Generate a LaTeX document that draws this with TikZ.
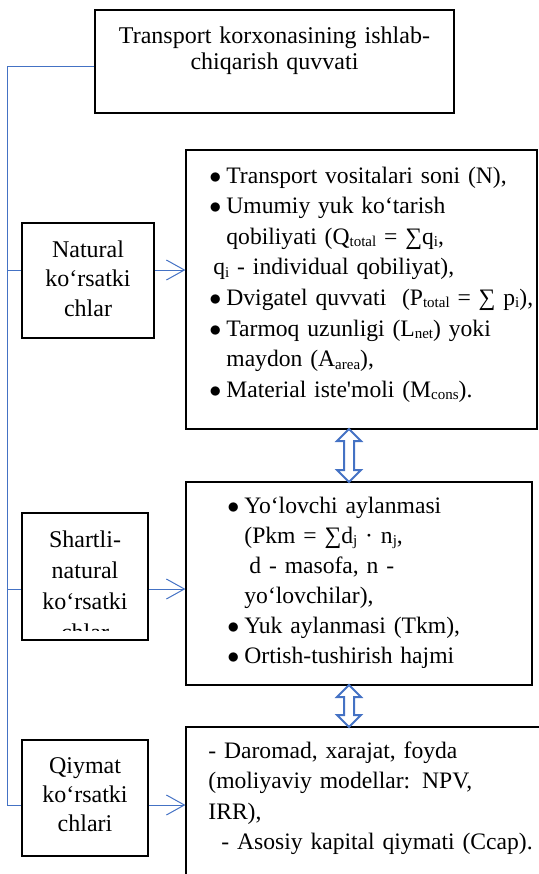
\documentclass[tikz,border=0pt]{standalone}
\usepackage{fontspec}
\setmainfont{Liberation Serif}[Ligatures=TeXOff]
\definecolor{linkblue}{RGB}{68,114,196}
\usetikzlibrary{arrows.meta,shapes.arrows,calc}
\newcommand{\listDot}{\makebox[8.5pt][l]{$\bullet$}}
\newcommand{\lowSub}[1]{\raisebox{-1.2pt}{\fontsize{7.5}{8}\selectfont #1}}
\tikzstyle{plainBox} = [
 rectangle,
 draw=black,
 line width=0.6pt,
 inner sep=0pt
]
\tikzstyle{boxText} = [
 inner sep=0pt,
 text width=170pt,
 align=left,
 anchor=base west
]
\tikzstyle{sideText} = [
 inner sep=0pt,
 text width=60pt,
 align=center,
 anchor=base
]
\tikzstyle{link} = [
 draw=linkblue,
 line width=0.5pt
]
\tikzstyle{arrowLink} = [
 link,
 -{Straight Barb[length=9pt,width=10pt,line width=0.5pt]}
]
\tikzstyle{dblArrow} = [
 double arrow,
 draw=linkblue,
 fill=white,
 line width=1pt,
 rotate=90,
 inner xsep=0pt,
 inner ysep=2pt,
 minimum width=0pt,
 minimum height=26.5pt,
 double arrow head extend=3.5pt
]

\begin{document}
\begin{tikzpicture}[x=0.5pt, y=-0.5pt]
  \useasboundingbox (0,0) rectangle (539,874);
  \clip (0,0) rectangle (539,874);

  \node [plainBox, minimum width=179.5pt, minimum height=51.5pt] (title) at (274.5,61.5) {};
  \node [sideText, text width=175pt, font=\fontsize{12}{13}\selectfont] (titleText) at (274.5,43)
    {Transport korxonasining ishlab-\\chiqarish quvvati};

  \node [plainBox, minimum width=66pt, minimum height=57.5pt] (nat) at (88,280.5) {};
  \node [sideText, font=\fontsize{12}{14.75}\selectfont] (natText) at (88,257)
    {Natural\\ko‘rsatki\\chlar};

  \node [plainBox, minimum width=63pt, minimum height=63.5pt] (shart) at (85,576.5) {};
  \begin{scope}
    \clip (22,513) rectangle (148,630);
    \node [sideText, font=\fontsize{12}{15.5}\selectfont] (shartText) at (85,547)
      {Shartli-\\natural\\ko‘rsatki\\chlar};
  \end{scope}

  \node [plainBox, minimum width=63pt, minimum height=58pt] (qiym) at (85,798) {};
  \node [sideText, font=\fontsize{12}{14.5}\selectfont] (qiymText) at (85,773)
    {Qiymat\\ko‘rsatki\\chlari};

  \node [plainBox, minimum width=175.5pt, minimum height=139.5pt] (list1) at (361.5,289.5) {};
  \node [boxText, font=\fontsize{11.8}{15.3}\selectfont] (list1Text) at (209,183)
    {\listDot Transport vositalari soni (N),\\
     \listDot Umumiy yuk ko‘tarish\\
     \hspace*{8.5pt}qobiliyati (Q\lowSub{total} = ∑q\lowSub{i},\\
     \hspace*{2pt}q\lowSub{i} - individual qobiliyat),\\
     \listDot Dvigatel quvvati\ \ (P\lowSub{total} = ∑ p\lowSub{i}),\\
     \listDot Tarmoq uzunligi (L\lowSub{net}) yoki\\
     \hspace*{8.5pt}maydon (A\lowSub{area}),\\
     \listDot Material iste'moli (M\lowSub{cons}).};

  \node [plainBox, minimum width=173pt, minimum height=101.5pt] (list2) at (359,583.5) {};
  \node [boxText, font=\fontsize{11.8}{15}\selectfont] (list2Text) at (227,513)
    {\listDot Yo‘lovchi aylanmasi\\
     \hspace*{8.5pt}(Pkm = ∑d\lowSub{j} · n\lowSub{j},\\
     \hspace*{11pt}d - masofa, n -\\
     \hspace*{8.5pt}yo‘lovchilar),\\
     \listDot Yuk aylanmasi (Tkm),\\
     \listDot Ortish-tushirish hajmi};

  \node [plainBox, minimum width=181pt, minimum height=86.5pt] (list3) at (367,813.5) {};
  \node [boxText, font=\fontsize{11.8}{15.3}\selectfont] (list3Text) at (208,758)
    {- Daromad, xarajat, foyda\\
     (moliyaviy modellar: NPV,\\
     IRR),\\
     \hspace*{6.5pt}- Asosiy kapital qiymati (Ccap).};

  \node [dblArrow] (ud1) at (349,455.5) {};
  \node [dblArrow, minimum height=21pt] (ud2) at (349,706) {};

  \coordinate (trunk) at (7.5,0);
  \coordinate (natOut) at ([yshift=5.25pt]nat.east);
  \coordinate (shartOut) at ([yshift=-6.25pt]shart.east);
  \coordinate (qiymOut) at ([yshift=-3.5pt]qiym.east);

  \draw [link] ([yshift=-2.25pt]title.west) -| (trunk |- qiymOut) -- ([yshift=-3.5pt]qiym.west);
  \draw [link] (trunk |- natOut) -- ([yshift=5.25pt]nat.west);
  \draw [link] (trunk |- shartOut) -- ([yshift=-6.25pt]shart.west);

  \draw [arrowLink] (natOut) -- (natOut -| list1.west);
  \draw [arrowLink] (shartOut) -- (shartOut -| list2.west);
  \draw [arrowLink] (qiymOut) -- (qiymOut -| list3.west);
\end{tikzpicture}
\end{document}
